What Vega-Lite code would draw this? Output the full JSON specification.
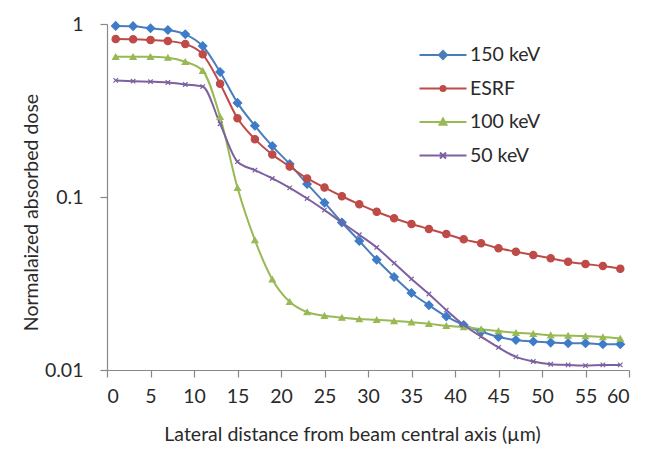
{
  "$schema": "https://vega.github.io/schema/vega-lite/v6.json",
  "width": 522,
  "height": 346,
  "autosize": {"type": "none"},
  "padding": {"left": 107, "top": 24, "right": 17, "bottom": 89},
  "background": "white",
  "config": {
    "view": {"stroke": null},
    "axis": {
      "labelFont": "Lato", "titleFont": "Lato", "labelFontSize": 19.5, "titleFontSize": 19.5,
      "labelColor": "#2a2a2a", "titleColor": "#2a2a2a", "titleFontWeight": "normal",
      "domainColor": "#888", "tickColor": "#888", "grid": false, "domainWidth": 1.2, "tickWidth": 1.2
    }
  },
  "data": {"values": [
    {"s":"150 keV","x":1,"y":0.975},{"s":"150 keV","x":3,"y":0.972},{"s":"150 keV","x":5,"y":0.944},{"s":"150 keV","x":7,"y":0.923},{"s":"150 keV","x":9,"y":0.872},{"s":"150 keV","x":11,"y":0.746},{"s":"150 keV","x":13,"y":0.528},{"s":"150 keV","x":15,"y":0.35},{"s":"150 keV","x":17,"y":0.258},{"s":"150 keV","x":19,"y":0.197},{"s":"150 keV","x":21,"y":0.155},{"s":"150 keV","x":23,"y":0.119},{"s":"150 keV","x":25,"y":0.0927},{"s":"150 keV","x":27,"y":0.0712},{"s":"150 keV","x":29,"y":0.0557},{"s":"150 keV","x":31,"y":0.0434},{"s":"150 keV","x":33,"y":0.0345},{"s":"150 keV","x":35,"y":0.0279},{"s":"150 keV","x":37,"y":0.0237},{"s":"150 keV","x":39,"y":0.0204},{"s":"150 keV","x":41,"y":0.0182},{"s":"150 keV","x":43,"y":0.0167},{"s":"150 keV","x":45,"y":0.0155},{"s":"150 keV","x":47,"y":0.0149},{"s":"150 keV","x":49,"y":0.0146},{"s":"150 keV","x":51,"y":0.0144},{"s":"150 keV","x":53,"y":0.0143},{"s":"150 keV","x":55,"y":0.0143},{"s":"150 keV","x":57,"y":0.0141},{"s":"150 keV","x":59,"y":0.0141},
    {"s":"ESRF","x":1,"y":0.819},{"s":"ESRF","x":3,"y":0.816},{"s":"ESRF","x":5,"y":0.808},{"s":"ESRF","x":7,"y":0.797},{"s":"ESRF","x":9,"y":0.766},{"s":"ESRF","x":11,"y":0.668},{"s":"ESRF","x":13,"y":0.452},{"s":"ESRF","x":15,"y":0.285},{"s":"ESRF","x":17,"y":0.216},{"s":"ESRF","x":19,"y":0.176},{"s":"ESRF","x":21,"y":0.15},{"s":"ESRF","x":23,"y":0.128},{"s":"ESRF","x":25,"y":0.1135},{"s":"ESRF","x":27,"y":0.101},{"s":"ESRF","x":29,"y":0.0907},{"s":"ESRF","x":31,"y":0.0822},{"s":"ESRF","x":33,"y":0.0753},{"s":"ESRF","x":35,"y":0.0698},{"s":"ESRF","x":37,"y":0.0653},{"s":"ESRF","x":39,"y":0.0611},{"s":"ESRF","x":41,"y":0.0569},{"s":"ESRF","x":43,"y":0.054},{"s":"ESRF","x":45,"y":0.0505},{"s":"ESRF","x":47,"y":0.0483},{"s":"ESRF","x":49,"y":0.0462},{"s":"ESRF","x":51,"y":0.0442},{"s":"ESRF","x":53,"y":0.0423},{"s":"ESRF","x":55,"y":0.041},{"s":"ESRF","x":57,"y":0.0399},{"s":"ESRF","x":59,"y":0.0385},
    {"s":"100 keV","x":1,"y":0.647},{"s":"100 keV","x":3,"y":0.647},{"s":"100 keV","x":5,"y":0.647},{"s":"100 keV","x":7,"y":0.639},{"s":"100 keV","x":9,"y":0.605},{"s":"100 keV","x":11,"y":0.537},{"s":"100 keV","x":13,"y":0.291},{"s":"100 keV","x":15,"y":0.113},{"s":"100 keV","x":17,"y":0.0564},{"s":"100 keV","x":19,"y":0.0334},{"s":"100 keV","x":21,"y":0.0248},{"s":"100 keV","x":23,"y":0.0216},{"s":"100 keV","x":25,"y":0.0206},{"s":"100 keV","x":27,"y":0.0201},{"s":"100 keV","x":29,"y":0.0197},{"s":"100 keV","x":31,"y":0.0195},{"s":"100 keV","x":33,"y":0.0192},{"s":"100 keV","x":35,"y":0.0189},{"s":"100 keV","x":37,"y":0.0185},{"s":"100 keV","x":39,"y":0.018},{"s":"100 keV","x":41,"y":0.0177},{"s":"100 keV","x":43,"y":0.0172},{"s":"100 keV","x":45,"y":0.0168},{"s":"100 keV","x":47,"y":0.0164},{"s":"100 keV","x":49,"y":0.0162},{"s":"100 keV","x":51,"y":0.0159},{"s":"100 keV","x":53,"y":0.0158},{"s":"100 keV","x":55,"y":0.0157},{"s":"100 keV","x":57,"y":0.0155},{"s":"100 keV","x":59,"y":0.0152},
    {"s":"50 keV","x":1,"y":0.472},{"s":"50 keV","x":3,"y":0.467},{"s":"50 keV","x":5,"y":0.464},{"s":"50 keV","x":7,"y":0.459},{"s":"50 keV","x":9,"y":0.447},{"s":"50 keV","x":11,"y":0.435},{"s":"50 keV","x":13,"y":0.265},{"s":"50 keV","x":15,"y":0.16},{"s":"50 keV","x":17,"y":0.143},{"s":"50 keV","x":19,"y":0.128},{"s":"50 keV","x":21,"y":0.113},{"s":"50 keV","x":23,"y":0.098},{"s":"50 keV","x":25,"y":0.084},{"s":"50 keV","x":27,"y":0.0712},{"s":"50 keV","x":29,"y":0.0605},{"s":"50 keV","x":31,"y":0.0511},{"s":"50 keV","x":33,"y":0.0415},{"s":"50 keV","x":35,"y":0.0336},{"s":"50 keV","x":37,"y":0.0275},{"s":"50 keV","x":39,"y":0.0222},{"s":"50 keV","x":41,"y":0.0182},{"s":"50 keV","x":43,"y":0.0156},{"s":"50 keV","x":45,"y":0.0135},{"s":"50 keV","x":47,"y":0.0119},{"s":"50 keV","x":49,"y":0.0112},{"s":"50 keV","x":51,"y":0.0108},{"s":"50 keV","x":53,"y":0.0107},{"s":"50 keV","x":55,"y":0.0106},{"s":"50 keV","x":57,"y":0.0107},{"s":"50 keV","x":59,"y":0.0107}
  ]},
  "layer": [
    {
      "mark": {"type": "line", "interpolate": "monotone", "strokeWidth": 2},
      "encoding": {
        "x": {"field": "x", "type": "quantitative", "scale": {"domain": [0, 60], "nice": false},
              "axis": {"values": [0,5,10,15,20,25,30,35,40,45,50,55,60], "tickSize": 7, "labelPadding": 10, "titlePadding": 20, "titleX": 245,
                       "title": "Lateral distance from beam central axis (µm)"}},
        "y": {"field": "y", "type": "quantitative", "scale": {"type": "log", "domain": [0.01, 1], "nice": false},
              "axis": {"values": [0.01, 0.1, 1], "format": "~g", "tickSize": 7, "labelPadding": 17, "titlePadding": 3, "titleY": 188,
                       "title": "Normalaized absorbed dose"}},
        "color": {"field": "s", "type": "nominal", "scale": {"domain": ["150 keV","ESRF","100 keV","50 keV"], "range": ["#4A7EBB","#BE4B48","#98B954","#7D60A0"]}, "legend": null}
      }
    },
    {
      "mark": {"type": "point", "strokeWidth": 1.2, "opacity": 1},
      "encoding": {
        "x": {"field": "x", "type": "quantitative"},
        "y": {"field": "y", "type": "quantitative"},
        "fill": {"field": "s", "type": "nominal", "scale": {"domain": ["150 keV","ESRF","100 keV","50 keV"], "range": ["#3E7BC9","#BE4B48","#98B954","#7D60A0"]}, "legend": null},
        "stroke": {"field": "s", "type": "nominal", "scale": {"domain": ["150 keV","ESRF","100 keV","50 keV"], "range": ["#3E7BC9","#BE4B48","#98B954","#7D60A0"]}, "legend": null},
        "shape": {"field": "s", "type": "nominal", "scale": {"domain": ["150 keV","ESRF","100 keV","50 keV"], "range": ["diamond","circle","triangle-up","M-1,-1L1,1M-1,1L1,-1"]}, "legend": null},
        "size": {"field": "s", "type": "nominal", "scale": {"domain": ["150 keV","ESRF","100 keV","50 keV"], "range": [70, 20, 45, 30]}, "legend": null}
      }
    },
    {
      "transform": [{"filter": "false"}],
      "mark": {"type": "point", "strokeWidth": 2, "opacity": 1},
      "encoding": {
        "fill": {"field": "s", "type": "nominal", "scale": {"domain": ["150 keV","ESRF","100 keV","50 keV"], "range": ["#4A7EBB","#BE4B48","#98B954","#7D60A0"]},
                 "legend": {"orient": "none", "legendX": 325, "legendY": 20, "title": null, "symbolSize": 400, "labelFont": "Lato", "labelFontSize": 19.5, "labelColor": "#2a2a2a", "labelOffset": 16, "rowPadding": 12.5, "padding": 0, "symbolStrokeWidth": 2}},
        "stroke": {"field": "s", "type": "nominal", "scale": {"domain": ["150 keV","ESRF","100 keV","50 keV"], "range": ["#4A7EBB","#BE4B48","#98B954","#7D60A0"]},
                 "legend": {"orient": "none", "legendX": 325, "legendY": 20, "title": null, "symbolSize": 400, "labelFont": "Lato", "labelFontSize": 19.5, "labelColor": "#2a2a2a", "labelOffset": 16, "rowPadding": 12.5, "padding": 0, "symbolStrokeWidth": 2}},
        "shape": {"field": "s", "type": "nominal", "scale": {"domain": ["150 keV","ESRF","100 keV","50 keV"], "range": [
                    "M-2.35,0H2.35M0,-0.4L0.4,0L0,0.4L-0.4,0Z",
                    "M-2.35,0H2.35M-0.25,0A0.25,0.25 0 1,0 0.25,0A0.25,0.25 0 1,0 -0.25,0Z",
                    "M-2.35,0H2.35M0,-0.35L0.35,0.28L-0.35,0.28Z",
                    "M-2.35,0H2.35M-0.3,-0.3L0.3,0.3M-0.3,0.3L0.3,-0.3"]},
                 "legend": {"orient": "none", "legendX": 325, "legendY": 20, "title": null, "symbolSize": 400, "labelFont": "Lato", "labelFontSize": 19.5, "labelColor": "#2a2a2a", "labelOffset": 16, "rowPadding": 12.5, "padding": 0, "symbolStrokeWidth": 2}}
      }
    }
  ],
  "resolve": {"scale": {"fill": "independent", "stroke": "independent", "shape": "independent", "size": "independent"}}
}
